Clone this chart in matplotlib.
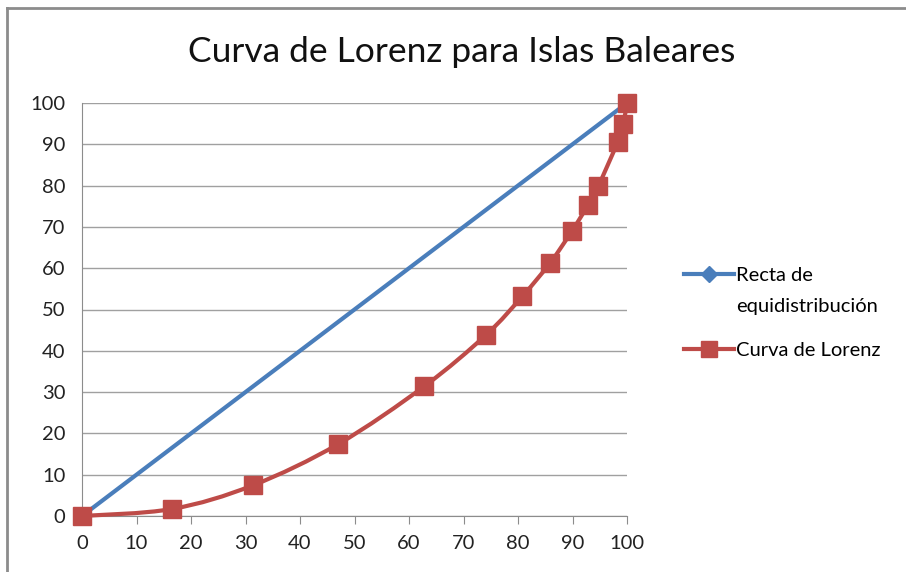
import matplotlib
matplotlib.use("Agg")
import matplotlib.pyplot as plt
from matplotlib.path import Path
from matplotlib.patches import PathPatch
from matplotlib.lines import Line2D

plt.rcParams['font.family'] = ['Lato', 'DejaVu Sans']

title = "Curva de Lorenz para Islas Baleares"
eq_x = [0, 100]
eq_y = [0, 100]
lor_x = [0, 16.5, 31.3, 47.0, 62.8, 74.1, 80.8, 85.9, 89.9, 92.8, 94.7, 98.3, 99.3, 100]
lor_y = [0, 1.7, 7.4, 17.4, 31.4, 43.8, 53.2, 61.3, 69.0, 75.2, 79.8, 90.6, 94.9, 100]
ticks = list(range(0, 101, 10))
labels = ["Recta de\nequidistribución", "Curva de Lorenz"]

blue = "#4A7EBB"
red = "#BE4B48"

fig = plt.figure(figsize=(9.06, 5.72), dpi=100)
ax = fig.add_axes([82/906, 1 - 516/572, 545/906, 413/572])

# frame around chart area
fig.add_artist(Line2D([7/906, 7/906], [0, 1 - 8/572], color="#8c8c8c", lw=2))
fig.add_artist(Line2D([7/906, 1], [1 - 8/572, 1 - 8/572], color="#8c8c8c", lw=2))

ax.plot(eq_x, eq_y, color=blue, lw=3, marker='D', ms=8, zorder=3, label=labels[0], clip_on=False)

# smoothed line (Catmull-Rom style Bezier through data points)
verts = [(lor_x[0], lor_y[0])]
codes = [Path.MOVETO]
n = len(lor_x)
t = 1/6
for i in range(n - 1):
    p0 = (lor_x[max(i-1, 0)], lor_y[max(i-1, 0)])
    p1 = (lor_x[i], lor_y[i])
    p2 = (lor_x[i+1], lor_y[i+1])
    p3 = (lor_x[min(i+2, n-1)], lor_y[min(i+2, n-1)])
    c1 = (p1[0] + (p2[0]-p0[0])*t, p1[1] + (p2[1]-p0[1])*t)
    c2 = (p2[0] - (p3[0]-p1[0])*t, p2[1] - (p3[1]-p1[1])*t)
    verts += [c1, c2, p2]
    codes += [Path.CURVE4]*3
ax.add_patch(PathPatch(Path(verts, codes), fill=False, edgecolor=red, lw=3, zorder=4, clip_on=False))
ax.plot(lor_x, lor_y, ls='none', marker='s', ms=13, color=red, zorder=5, clip_on=False)
ax.plot([], [], color=red, lw=3, marker='s', ms=11, label=labels[1])

ax.set_xlim(0, 100)
ax.set_ylim(0, 100)
ax.set_xticks(ticks)
ax.set_yticks(ticks)
ax.yaxis.grid(True, color="#a0a0a0", lw=1)
ax.set_axisbelow(True)
for s in ['top', 'right']:
    ax.spines[s].set_visible(False)
for s in ['left', 'bottom']:
    ax.spines[s].set_color("#8c8c8c")
ax.tick_params(axis='x', length=6, color="#8c8c8c", labelsize=14.5, pad=8, labelcolor="#222222")
ax.tick_params(axis='y', length=0, labelsize=14.5, pad=12, labelcolor="#222222")

fig.text(0.5 * (190 + 733) / 906, 1 - 52/572, title, ha='center', va='center', fontsize=25.5, color="#111111")

leg = ax.legend(loc='center left', bbox_to_anchor=(666/906, 1 - 313/572), bbox_transform=fig.transFigure,
                frameon=False, fontsize=14.5, handlelength=2.5, handletextpad=0.1, labelspacing=1.3)
for txt in leg.get_texts():
    txt.set_linespacing(2.0)
try:
    for col in leg._legend_handle_box.get_children():
        for item in col.get_children():
            item.align = "top"
except Exception:
    pass

fig.savefig("out.png", dpi=100)
